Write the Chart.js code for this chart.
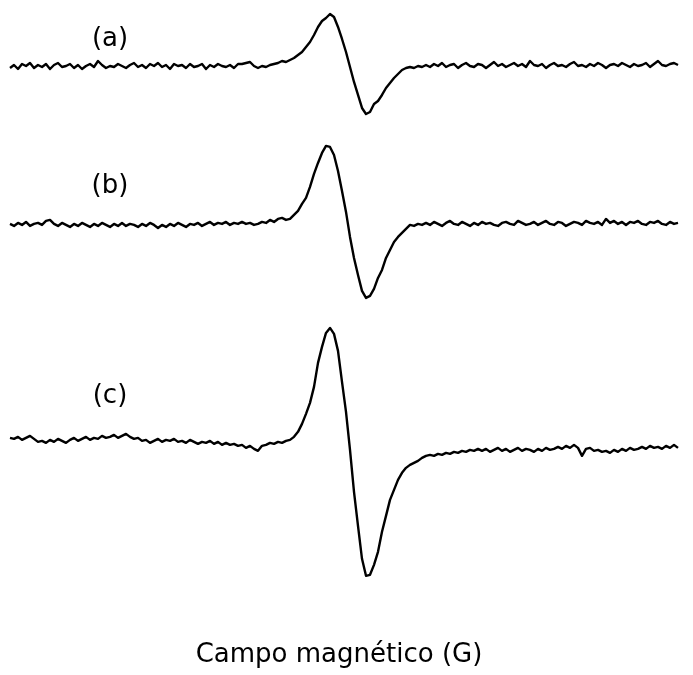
<!DOCTYPE html>
<html>
<head>
<meta charset="utf-8">
<script src="https://cdn.jsdelivr.net/npm/chart.js@4/dist/chart.umd.min.js"></script>
<style>
  html, body { margin: 0; padding: 0; background: #ffffff; }
  #wrap { width: 693px; height: 675px; }
</style>
</head>
<body>
<div id="wrap"><canvas id="epr"></canvas></div>
<script>
// Sample labels of the three spectra
const traceLabels = ['(a)', '(b)', '(c)'];
const axisTitle = 'Campo magnético (G)';

// First-derivative EPR signals, one reading per sweep step (arbitrary units)
const signalA = [
  -2, 1, -3, 2, 0, 3, -2, 1, -1, 2,
  -3, 1, 3, -1, 0, 2, -2, 1, -3, 0,
  2, -1, 5, 1, -2, 0, -1, 2, 0, -2,
  1, 3, -1, 1, -2, 2, 0, 3, -1, 1,
  -3, 2, 0, 1, -2, 2, -1, 0, 2, -3,
  1, -1, 2, 0, -1, 1, -2, 2,
  2, 3, 4, 0, -2, 0, -1, 1, 2, 3,
  5, 4, 6, 8, 11, 14, 19, 24, 31, 39,
  45, 48, 52, 49, 39, 27, 14, -1, -16, -29,
  -42, -48, -46, -38, -35, -29, -22, -17, -12, -8,
  -4, -2, -1, -2, 0, -1,
  1, -1, 2, 0, 3, -1, 1, 2, -2, 1,
  3, 0, -1, 2, 1, -2, 1, 4, 0, 2,
  -1, 1, 3, 0, 2, -1, 5, 1, 0, 2,
  -2, 1, 3, 0, 1, -1, 2, 4, 0, 1,
  -1, 2, 0, 3, 1, -2, 1, 2, 0, 3,
  1, -1, 2, 0, 1, 3, -1, 2, 5, 1,
  0, 2, 3, 1, -1, 2, 3
];

const signalB = [
  0, -2, 1, -1, 2, -2, 0, 1, -1, 3,
  4, 0, -2, 1, -1, -3, 0, -2, 1, -1,
  -3, 0, -2, 1, -1, -3, 0, -2, 1, -2,
  0, -1, -3, 0, -2, 1, -1, -4, -1, -3,
  0, -2, 1, -1, -3, 0, -1, 1, -2, 0,
  2, -1, 1, 0, 2, -1, 1, 0,
  2, 0, 1, -1, 0, 2, 1, 4, 2, 5,
  6, 4, 5, 9, 13, 20, 26, 37, 50, 61,
  71, 78, 77, 69, 53, 33, 12, -13, -34, -51,
  -67, -74, -72, -65, -54, -46, -34, -26, -18, -13,
  -9, -5, -1, -2, 0, -1,
  1, -1, 2, 0, -2, 1, 3, 0, -1, 2,
  0, -2, 1, -1, 2, 0, 1, -1, -2, 1,
  2, 0, -1, 3, 1, -1, 0, 2, -1, 1,
  3, 0, -1, 2, 1, -2, 0, 2, 1, -1,
  3, 1, 0, 2, -1, 5, 1, 3, 0, 2,
  -1, 2, 1, 3, 0, -1, 2, 1, 3, 0,
  -1, 2, 0, 1, 3, -1, 1
];

const signalC = [
  2, 1, 3, 0, 2, 4, 1, -2, -1, -3,
  0, -2, 1, -1, -3, 0, 2, -1, 1, 3,
  0, 2, 1, 4, 2, 3, 5, 2, 4, 6,
  3, 1, 2, -1, 0, -3, -1, 1, -2, 0,
  -1, 1, -2, -1, -3, 0, -2, -4, -2, -3,
  -1, -4, -2, -5, -3, -5, -4, -6, -5, -8,
  -6, -9, -11, -6, -5, -3, -4, -2, -3, -1,
  0,
  3, 8, 16, 26, 37, 53, 77, 93, 107,
  112, 106, 89, 58, 28, -10, -52, -86, -119, -136,
  -135, -125, -112, -92, -76, -60, -50, -40, -33, -28,
  -25, -23, -21, -18, -16, -15, -16, -14, -15, -13,
  -14, -12, -13, -11, -12, -10, -11,
  -9, -11, -9, -12, -10, -8, -11, -9, -12, -10,
  -8, -11, -9, -10, -12, -9, -11, -8, -10, -9,
  -7, -9, -6, -8, -5, -8, -16, -9, -8, -11,
  -10, -12, -11, -13, -10, -12, -9, -11, -8, -10,
  -9, -7, -9, -6, -8, -7, -9, -6, -8, -5,
  -8, -6, -9, -7
];

const signals = [signalA, signalB, signalC];
const axisIds = ['yA', 'yB', 'yC'];

// Where each sample label sits (sweep step, signal units)
const labelSpots = [
  { step: 25, value: 27 },
  { step: 25, value: 38 },
  { step: 25, value: 44 }
];

const datasets = signals.map((sig, k) => ({
  label: traceLabels[k],
  data: sig.map((v, i) => ({ x: i, y: v })),
  yAxisID: axisIds[k],
  borderColor: '#000000',
  borderWidth: 2.4,
  borderJoinStyle: 'round',
  pointRadius: 0,
  tension: 0,
  fill: false,
  clip: 16
}));

const labelFont = '26px "DejaVu Sans"';

const traceLabelPlugin = {
  id: 'traceLabels',
  afterDatasetsDraw(chart) {
    const ctx = chart.ctx;
    const xs = chart.scales.x;
    ctx.save();
    ctx.font = labelFont;
    ctx.fillStyle = '#000000';
    ctx.textAlign = 'center';
    ctx.textBaseline = 'middle';
    labelSpots.forEach((spot, k) => {
      const ys = chart.scales[axisIds[k]];
      ctx.fillText(traceLabels[k], xs.getPixelForValue(spot.step), ys.getPixelForValue(spot.value));
    });
    ctx.restore();
  }
};

const hiddenY = (weight, min, max) => ({
  type: 'linear',
  position: 'left',
  stack: 'traces',
  stackWeight: weight,
  min: min,
  max: max,
  display: false
});

// Stacked bands: the axis declared last is placed on top
new Chart(document.getElementById('epr'), {
  type: 'line',
  data: { datasets },
  options: {
    responsive: true,
    maintainAspectRatio: false,
    animation: false,
    events: [],
    layout: { padding: { left: 0, right: 15, top: 0, bottom: 0 } },
    plugins: {
      legend: { display: false },
      tooltip: { enabled: false }
    },
    scales: {
      x: {
        type: 'linear',
        min: -2.5,
        max: 167,
        grid: { display: false, drawTicks: false },
        border: { display: false },
        ticks: { display: false },
        title: {
          display: true,
          text: axisTitle,
          color: '#000000',
          font: { family: 'DejaVu Sans', size: 26 },
          padding: { top: 0, bottom: 4 }
        }
      },
      yC: hiddenY(325, -200, 125),
      yB: hiddenY(180, -91, 89),
      yA: hiddenY(135, -69, 66)
    }
  },
  plugins: [traceLabelPlugin]
});
</script>
</body>
</html>
